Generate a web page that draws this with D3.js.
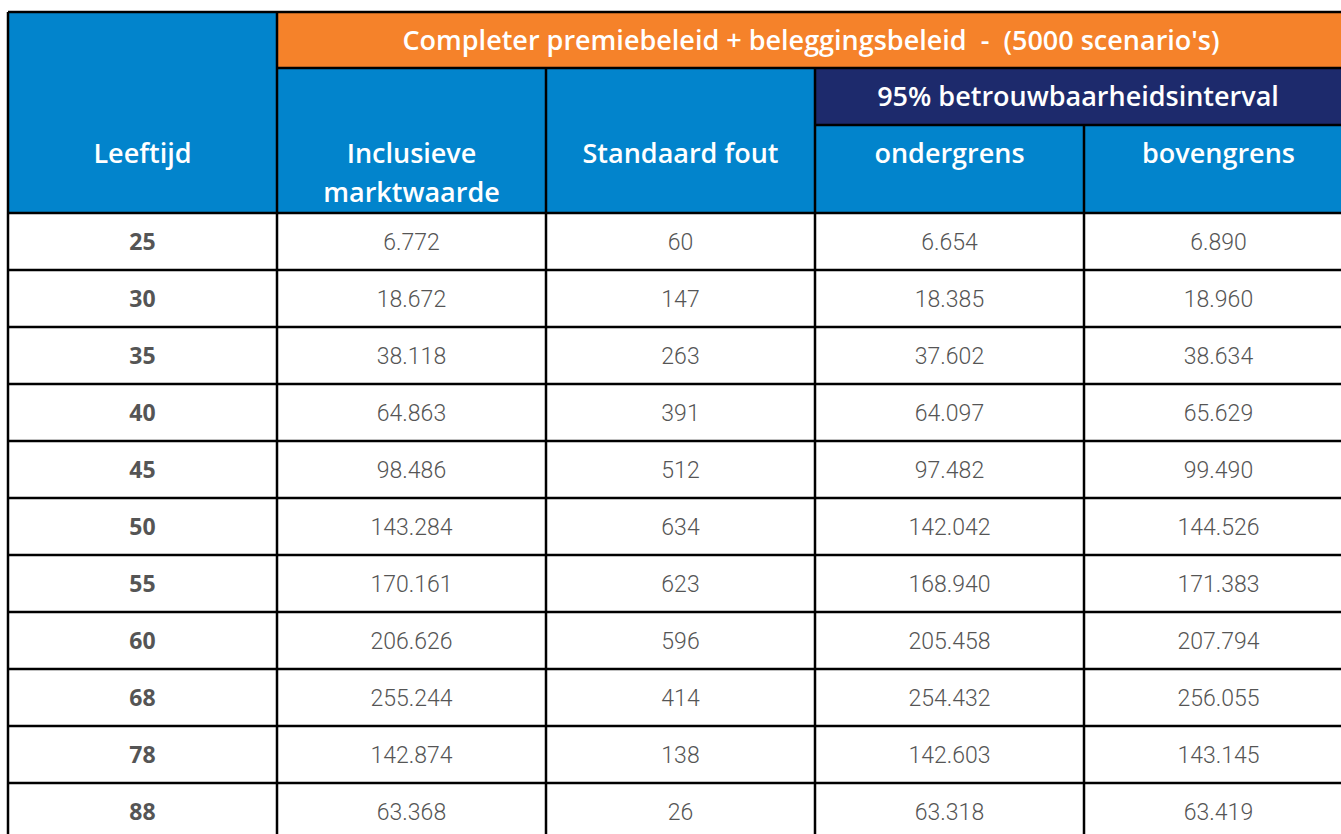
<!DOCTYPE html>
<html lang="nl">
<head>
<meta charset="UTF-8">
<title>Completer premiebeleid + beleggingsbeleid</title>
<script src="https://d3js.org/d3.v7.min.js"></script>
<style>
    body { margin: 0; background: #fff; }
    svg { display: block; font-family: "Open Sans", "Noto Sans", sans-serif; }
    .hdr { fill: #fff; font-weight: 600; font-size: 27px; text-anchor: middle; white-space: pre; }
    .age { fill: #555; font-weight: 700; font-size: 23px; text-anchor: middle; }
    .val { fill: #555; font-family: Roboto, sans-serif; font-weight: 300; font-size: 23px; text-anchor: middle; }
    .grid { stroke: #000; stroke-width: 2.5; }
</style>
</head>
<body>
<div id="chart"></div>
<script>
const leeftijd = [25, 30, 35, 40, 45, 50, 55, 60, 68, 78, 88];
const marktwaarde = [6772, 18672, 38118, 64863, 98486, 143284, 170161, 206626, 255244, 142874, 63368];
const standaardFout = [60, 147, 263, 391, 512, 634, 623, 596, 414, 138, 26];
const ondergrens = [6654, 18385, 37602, 64097, 97482, 142042, 168940, 205458, 254432, 142603, 63318];
const bovengrens = [6890, 18960, 38634, 65629, 99490, 144526, 171383, 207794, 256055, 143145, 63419];

const titel = "Completer premiebeleid + beleggingsbeleid  -  (5000 scenario's)";
const intervalTitel = "95% betrouwbaarheidsinterval";
const kolommen = ["Leeftijd", "Inclusieve marktwaarde", "Standaard fout", "ondergrens", "bovengrens"];

const W = 1341, H = 834;
const blue = "#0284cc", orange = "#f5822a", navy = "#1d2a6c";

const svg = d3.select("#chart").append("svg")
    .attr("width", W).attr("height", H);

const fmt = d3.formatLocale({ decimal: ",", thousands: ".", grouping: [3], currency: ["€", ""] }).format(",d");

// column scale: index -> left edge
const x = d3.scaleLinear().domain([0, 5]).range([8, 1353]);
const colW = x(1) - x(0);

// header band
const tableTop = 12, hdrRow1 = 68, hdrRow2 = 125, hdrBottom = 213;
const rowH = 57;
const y = d3.scaleBand().domain(leeftijd).range([hdrBottom, hdrBottom + rowH * leeftijd.length]);

// header backgrounds
svg.append("rect").attr("x", x(0)).attr("y", tableTop).attr("width", x(5) - x(0)).attr("height", hdrBottom - tableTop).attr("fill", blue);
svg.append("rect").attr("x", x(1)).attr("y", tableTop).attr("width", x(5) - x(1)).attr("height", hdrRow1 - tableTop).attr("fill", orange);
svg.append("rect").attr("x", x(3)).attr("y", hdrRow1).attr("width", x(5) - x(3)).attr("height", hdrRow2 - hdrRow1).attr("fill", navy);

// header texts
svg.append("text").attr("class", "hdr").attr("x", (x(1) + W) / 2 + 2).attr("y", 50).text(titel);
svg.append("text").attr("class", "hdr").attr("x", (x(3) + W) / 2).attr("y", 106).text(intervalTitel);

svg.append("text").attr("class", "hdr").attr("x", x(0) + colW / 2).attr("y", 163).text(kolommen[0]);
svg.append("text").attr("class", "hdr").attr("x", x(1) + colW / 2).attr("y", 163).text("Inclusieve");
svg.append("text").attr("class", "hdr").attr("x", x(1) + colW / 2).attr("y", 202).text("marktwaarde");
[2, 3, 4].forEach(i => {
    svg.append("text").attr("class", "hdr").attr("x", x(i) + colW / 2).attr("y", 163).text(kolommen[i]);
});

// body rows
const rows = leeftijd.map((a, i) => ({
    age: a,
    cells: [marktwaarde[i], standaardFout[i], ondergrens[i], bovengrens[i]]
}));

const g = svg.append("g");
const row = g.selectAll("g.row").data(rows).join("g").attr("class", "row");

row.append("text").attr("class", "age")
    .attr("x", x(0) + colW / 2)
    .attr("y", d => y(d.age) + y.bandwidth() / 2)
    .attr("dy", "0.36em")
    .text(d => d.age);

row.selectAll("text.val").data(d => d.cells.map((v, j) => ({ v, j, age: d.age }))).join("text")
    .attr("class", "val")
    .attr("x", d => x(d.j + 1) + colW / 2)
    .attr("y", d => y(d.age) + y.bandwidth() / 2)
    .attr("dy", "0.36em")
    .text(d => fmt(d.v));

// grid lines
const grid = svg.append("g").attr("class", "grid");
grid.selectAll("line.h").data(leeftijd).join("line")
    .attr("x1", x(0)).attr("x2", W)
    .attr("y1", d => y(d)).attr("y2", d => y(d));
grid.append("line").attr("x1", x(0)).attr("x2", W).attr("y1", tableTop).attr("y2", tableTop);
grid.append("line").attr("x1", x(1)).attr("x2", W).attr("y1", hdrRow1).attr("y2", hdrRow1);
grid.append("line").attr("x1", x(3)).attr("x2", W).attr("y1", hdrRow2).attr("y2", hdrRow2);
grid.append("line").attr("x1", x(0)).attr("x2", x(0)).attr("y1", tableTop).attr("y2", H);
grid.append("line").attr("x1", x(1)).attr("x2", x(1)).attr("y1", tableTop).attr("y2", H);
grid.append("line").attr("x1", x(2)).attr("x2", x(2)).attr("y1", hdrRow1).attr("y2", H);
grid.append("line").attr("x1", x(3)).attr("x2", x(3)).attr("y1", hdrRow1).attr("y2", H);
grid.append("line").attr("x1", x(4)).attr("x2", x(4)).attr("y1", hdrRow2).attr("y2", H);
</script>
</body>
</html>
